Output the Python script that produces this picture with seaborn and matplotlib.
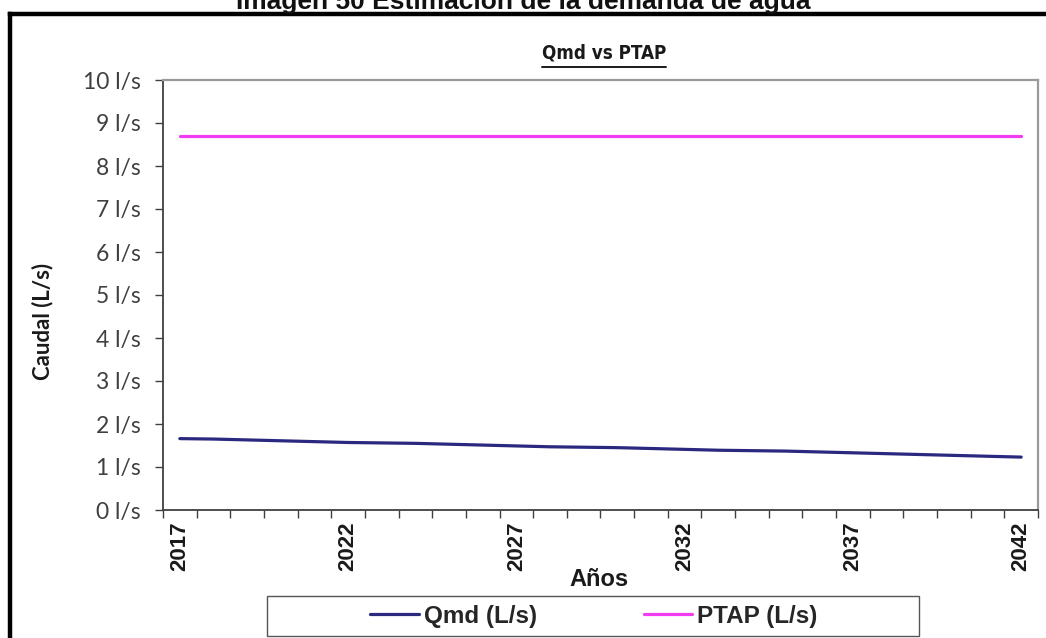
import matplotlib
matplotlib.use("Agg")
import matplotlib.pyplot as plt
from matplotlib.lines import Line2D
from matplotlib.patches import Rectangle
import numpy as np
import pandas as pd
import seaborn as sns

# Years of the projection horizon
years = list(range(2017, 2043))

# Maximum daily demand (L/s) per year
qmd = [1.66, 1.65, 1.63, 1.61, 1.59, 1.57, 1.56, 1.55, 1.53, 1.51,
       1.49, 1.47, 1.46, 1.45, 1.43, 1.41, 1.39, 1.38, 1.37, 1.35,
       1.33, 1.31, 1.29, 1.27, 1.25, 1.23]

# Treatment plant capacity (L/s), constant over the horizon
ptap = [8.7] * len(years)

series_names = ["Qmd (L/s)", "PTAP (L/s)"]
series_colors = ["#2B2880", "#F23CF2"]
y_ticks = list(range(0, 11))
y_tick_labels = [f"{v} l/s" for v in y_ticks]
x_label_years = [2017, 2022, 2027, 2032, 2037, 2042]

df = pd.DataFrame({
    "pos": list(range(len(years))) * 2,
    "valor": qmd + ptap,
    "serie": [series_names[0]] * len(years) + [series_names[1]] * len(years),
})

sns.set_theme(style="white")
plt.rcParams["font.family"] = ["Liberation Sans", "DejaVu Sans"]

BOLD_SANS = ["Liberation Sans", "DejaVu Sans"]

W, H = 1046, 638
fig = plt.figure(figsize=(W / 100, H / 100), dpi=100)
fig.patch.set_facecolor("white")


def fx(px):
    return px / W


def fy(py):
    return 1 - py / H


ax = fig.add_axes([fx(163), fy(510), fx(1038) - fx(163), fy(80) - fy(510)])

sns.lineplot(data=df, x="pos", y="valor", hue="serie", palette=series_colors,
             hue_order=series_names, linewidth=2.3, ax=ax, legend=False)

n = len(years)
ax.set_xlim(-0.5, n - 0.5)
ax.set_ylim(0, 10)

# Tick marks sit between the years; labels are centred on every fifth year
ax.set_xticks(np.arange(-0.5, n, 1.0), minor=True)
ax.set_xticks([years.index(y) for y in x_label_years])
ax.set_xticklabels([str(y) for y in x_label_years], rotation=90,
                   fontsize=16, fontweight="bold", color="#1a1a1a",
                   family=BOLD_SANS)
ax.tick_params(axis="x", which="minor", direction="out", length=6, width=1.0,
               color="#404040", bottom=True)
ax.tick_params(axis="x", which="major", length=0, pad=8, bottom=True)

ax.set_yticks(y_ticks)
ax.set_yticklabels(y_tick_labels, fontsize=16.5, color="#404040",
                   family=["Lato"])
ax.tick_params(axis="y", direction="out", length=6, width=1.0, color="#404040",
               left=True, pad=10)

ax.set_xlabel("")
ax.set_ylabel("")

for side in ["left", "bottom"]:
    ax.spines[side].set_color("#404040")
    ax.spines[side].set_linewidth(1.3)
for side in ["top", "right"]:
    ax.spines[side].set_color("#9a9a9a")
    ax.spines[side].set_linewidth(1.6)

# Axis titles
fig.text(fx(599), fy(580), "Años", ha="center", va="center", fontsize=17,
         fontweight="bold", family=BOLD_SANS, color="#1a1a1a")
fig.text(fx(43), fy(321), "Caudal (L/s)", rotation=90, ha="center",
         va="center", fontsize=16, fontweight="bold", family=["Lato"],
         color="#1a1a1a")

# Chart title, underlined to the width of its text
title = fig.text(fx(604), fy(53), "Qmd vs PTAP", ha="center", va="center",
                 fontsize=13.5, fontweight="bold", family=["DejaVu Sans"],
                 fontstretch="condensed", color="#1a1a1a")
renderer = fig.canvas.get_renderer()
bb = title.get_window_extent(renderer=renderer)
fig.add_artist(Line2D([bb.x0 / W, bb.x1 / W], [fy(67), fy(67)],
                      color="#1a1a1a", linewidth=1.4))

# Figure caption above the frame
fig.text(0.5, fy(9), "Imagen 50 Estimación de la demanda de agua",
         ha="center", va="baseline", fontsize=19, fontweight="bold",
         color="#111111")

# Outer black frame (left and top edges)
fig.add_artist(Line2D([fx(10), fx(10)], [fy(14), fy(H + 5)], color="black",
                      linewidth=3.2, solid_capstyle="projecting"))
fig.add_artist(Line2D([fx(10), fx(W + 5)], [fy(14), fy(14)], color="black",
                      linewidth=3.2, solid_capstyle="projecting"))

# Legend box and entries
fig.add_artist(Rectangle((fx(267), fy(636)), fx(919) - fx(267),
                         fy(596) - fy(636), transform=fig.transFigure,
                         fill=False, edgecolor="#555555", linewidth=1.0))
handles = [Line2D([0], [0], color=c, linewidth=2.3) for c in series_colors]
fig.legend(handles, series_names, loc="center",
           bbox_to_anchor=(fx(594), fy(616)), ncol=2, frameon=False,
           handlelength=2.0, columnspacing=4.4, handletextpad=0.2,
           borderpad=0.0,
           prop={"family": BOLD_SANS, "weight": "bold", "size": 17.5})

fig.savefig("out.png", dpi=100, facecolor="white")
